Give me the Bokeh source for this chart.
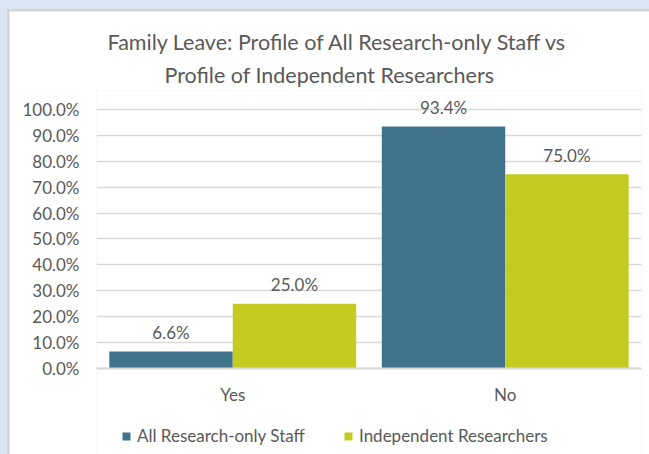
from bokeh.plotting import figure
from bokeh.models import (ColumnDataSource, FactorRange, LabelSet, Title, Legend, LegendItem,
                          FixedTicker, CustomJSTickFormatter, GlobalInlineStyleSheet)
from bokeh.core.properties import value
from bokeh.transform import dodge
from bokeh.embed import file_html
from bokeh.resources import INLINE

# ---- data ----
categories = ["Yes", "No"]
all_research_only_staff = [6.6, 93.4]
independent_researchers = [25.0, 75.0]
series_names = ["All Research-only Staff", "Independent Researchers"]
y_ticks = [0, 10, 20, 30, 40, 50, 60, 70, 80, 90, 100]
title_lines = ["Family Leave: Profile of All Research-only Staff vs",
               "Profile of Independent Researchers"]

FONT = "Lato"
TXT = "#595959"
BLUE = "#41728B"
GREEN = "#C4CC21"
GRID = "#d9d9d9"

src = ColumnDataSource(dict(
    cat=categories,
    a=all_research_only_staff,
    b=independent_researchers,
    a_lbl=["%.1f%%" % v for v in all_research_only_staff],
    b_lbl=["%.1f%%" % v for v in independent_researchers],
))

# page frame: light-blue surround with a grey edge, chart sits at (9, 11)
page_css = GlobalInlineStyleSheet(css="""
html, body { background: #dce6f2 !important; overflow: hidden !important; }
body {
  padding: 11px 0 0 9px !important;
  background:
    linear-gradient(#d4d4d4, #d4d4d4) 7px 9px / 642px 2px no-repeat,
    linear-gradient(#d4d4d4, #d4d4d4) 7px 9px / 2px 445px no-repeat,
    #dce6f2 !important;
}
""")

# plot frame runs from just under the title to the bottom edge; the category axis
# is pinned at 0 so the legend can sit inside the frame below it
p = figure(width=640, height=443, x_range=FactorRange(*categories), y_range=(-33.2, 107.3),
           output_backend="svg", toolbar_location=None, tools="",
           min_border_left=87, min_border_right=8, min_border_top=79, min_border_bottom=0)
p.stylesheets = [page_css]
p.outline_line_color = None
p.background_fill_color = "white"
p.border_fill_color = "white"

# two-line title (line nearest the plot added first)
t2 = Title(text=title_lines[1], align="left", offset=68, standoff=5, text_font=FONT,
           text_font_size="21.5px", text_font_style="normal", text_color=TXT)
t1 = Title(text=title_lines[0], align="left", offset=11, standoff=6, text_font=FONT,
           text_font_size="21.5px", text_font_style="normal", text_color=TXT)
p.add_layout(t2, "above")
p.add_layout(t1, "above")

off = 0.2265
w = 0.453
ra = p.vbar(x=dodge("cat", -off, range=p.x_range), top="a", width=w, source=src,
            fill_color=BLUE, line_color=None)
rb = p.vbar(x=dodge("cat", off, range=p.x_range), top="b", width=w, source=src,
            fill_color=GREEN, line_color=None)

for col, lbl, o in (("a", "a_lbl", -off), ("b", "b_lbl", off)):
    p.add_layout(LabelSet(x=dodge("cat", o, range=p.x_range), y=col, text=lbl, source=src,
                          text_align="center", text_baseline="alphabetic", y_offset=12.5,
                          text_font=value(FONT), text_font_size="17px", text_color=TXT))

p.yaxis.ticker = FixedTicker(ticks=y_ticks)
p.yaxis.formatter = CustomJSTickFormatter(code="return tick.toFixed(1) + '%';")
p.yaxis.axis_line_color = None
p.yaxis.axis_line_alpha = 0
p.yaxis.major_tick_line_color = None
p.yaxis.minor_tick_line_color = None
p.yaxis.major_tick_out = 0
p.yaxis.major_label_standoff = 17
p.yaxis.major_label_text_font = FONT
p.yaxis.major_label_text_font_size = "17px"
p.yaxis.major_label_text_color = TXT

p.xaxis.fixed_location = 0
p.xaxis.axis_line_color = GRID
p.xaxis.axis_line_width = 1.8
p.xaxis.major_tick_line_color = None
p.xaxis.minor_tick_line_color = None
p.xaxis.separator_line_color = None
p.xaxis.major_tick_out = 0
p.xaxis.major_label_standoff = 16
p.xaxis.major_label_text_font = FONT
p.xaxis.major_label_text_font_size = "17px"
p.xaxis.major_label_text_color = TXT

p.xgrid.grid_line_color = None
p.ygrid.grid_line_color = GRID
p.ygrid.grid_line_width = 1.5

legend = Legend(items=[LegendItem(label=series_names[0], renderers=[ra]),
                       LegendItem(label=series_names[1], renderers=[rb])],
                orientation="horizontal", location=(25, 8),
                glyph_width=10, glyph_height=10, label_standoff=6, spacing=10,
                label_width=196, padding=2, margin=0,
                label_text_font=FONT, label_text_font_size="17px", label_text_color=TXT,
                background_fill_alpha=0, border_line_color=None)
p.add_layout(legend, "center")

open("out.html", "w").write(file_html(p, INLINE))
